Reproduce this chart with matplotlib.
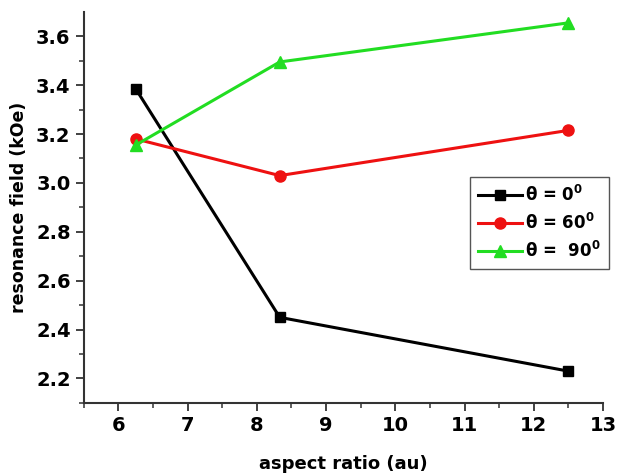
import matplotlib
matplotlib.use('Agg')
import matplotlib.pyplot as plt

plt.rcParams['font.family'] = ['DejaVu Sans']
plt.rcParams['font.weight'] = 'bold'
plt.rcParams['mathtext.fontset'] = 'custom'
plt.rcParams['mathtext.rm'] = 'DejaVu Sans:bold'
plt.rcParams['mathtext.bf'] = 'DejaVu Sans:bold'

# Данные
aspect = [6.25, 8.33, 12.5]
field_0 = [3.385, 2.45, 2.23]
field_60 = [3.18, 3.03, 3.215]
field_90 = [3.155, 3.495, 3.655]
labels = ['\u03b8 = 0$^{\\mathbf{0}}$', '\u03b8 = 60$^{\\mathbf{0}}$', '\u03b8 =  90$^{\\mathbf{0}}$']

fig = plt.figure(figsize=(6.21, 4.74), dpi=100)
ax = fig.add_axes([0.135, 0.150, 0.836, 0.825])

ax.plot(aspect, field_0, color='black', marker='s', markersize=7, lw=2.2, label=labels[0])
ax.plot(aspect, field_60, color='#ee1111', marker='o', markersize=8, lw=2.2, label=labels[1])
ax.plot(aspect, field_90, color='#22dd22', marker='^', markersize=9, lw=2.2, label=labels[2])

ax.set_xlim(5.55, 13)
ax.set_ylim(2.1, 3.7)
ax.set_xticks(range(6, 14))
ax.set_xticks([x + 0.5 for x in range(5, 13)], minor=True)
ax.set_yticks([2.2, 2.4, 2.6, 2.8, 3.0, 3.2, 3.4, 3.6])
ax.set_yticks([2.1 + 0.2 * i for i in range(8)], minor=True)
ax.yaxis.set_major_formatter(plt.FormatStrFormatter('%.1f'))

for s in ['top', 'right']:
    ax.spines[s].set_visible(False)
for s in ['left', 'bottom']:
    ax.spines[s].set_linewidth(1.5)
    ax.spines[s].set_color('#333333')
ax.tick_params(which='major', direction='out', length=6, width=1.3, labelsize=14, color='#333333')
ax.tick_params(which='minor', direction='out', length=3.5, width=1.1, color='#333333')

ax.set_xlabel('aspect ratio (au)', fontsize=13, fontweight='bold', labelpad=14)
ax.set_ylabel('resonance field (kOe)', fontsize=12.5, fontweight='bold', labelpad=6)

leg = ax.legend(loc='upper left', bbox_to_anchor=(0.744, 0.578), fontsize=12,
                handlelength=2.6, fancybox=False, edgecolor='#555555', framealpha=1,
                borderpad=0.5, labelspacing=0.45, handletextpad=0.2, borderaxespad=0)
leg.get_frame().set_linewidth(1.0)

fig.savefig('out.png', dpi=100)
